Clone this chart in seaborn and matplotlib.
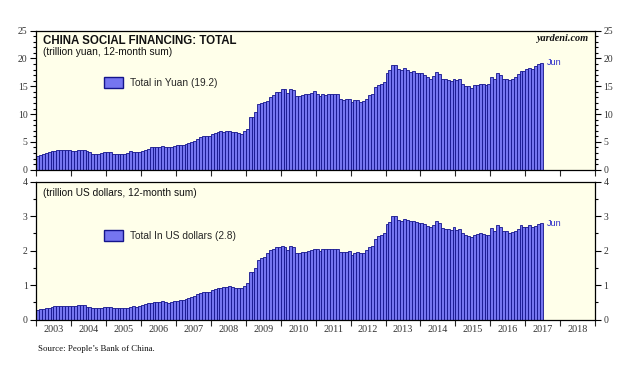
import numpy as np
import pandas as pd
import seaborn as sns
import matplotlib
matplotlib.use("Agg")
import matplotlib.pyplot as plt
from matplotlib.patches import Patch
from matplotlib.ticker import FixedLocator, MultipleLocator, NullFormatter

# China social financing, 12-month sum, monthly Jan 2003 - Jun 2017
yuan = [
    2.4, 2.6, 2.8, 3.0, 3.1, 3.3, 3.4, 3.5, 3.5, 3.5, 3.5, 3.5,        # 2003
    3.3, 3.3, 3.5, 3.5, 3.5, 3.3, 3.1, 2.9, 2.9, 2.8, 3.0, 3.2,        # 2004
    3.2, 3.1, 2.8, 2.8, 2.9, 2.9, 2.9, 3.0, 3.3, 3.2, 3.2, 3.2,        # 2005
    3.3, 3.5, 3.8, 4.0, 4.0, 4.1, 4.1, 4.2, 4.1, 4.0, 4.1, 4.3,        # 2006
    4.4, 4.4, 4.4, 4.7, 4.8, 5.0, 5.2, 5.5, 5.8, 6.1, 6.1, 6.1,        # 2007
    6.4, 6.6, 6.7, 6.9, 6.8, 6.9, 7.0, 6.8, 6.7, 6.6, 6.5, 7.0,        # 2008
    7.3, 9.5, 9.4, 10.3, 11.8, 12.0, 12.2, 12.4, 13.0, 13.4, 13.9, 13.9,  # 2009
    14.6, 14.5, 13.8, 14.6, 14.4, 13.2, 13.3, 13.4, 13.6, 13.7, 13.8, 14.1,  # 2010
    13.7, 13.2, 13.7, 13.5, 13.6, 13.7, 13.6, 13.6, 12.8, 12.6, 12.7, 12.8,  # 2011
    12.1, 12.5, 12.5, 12.1, 12.3, 12.8, 13.4, 13.6, 14.8, 15.2, 15.5, 15.8,  # 2012
    17.3, 18.0, 18.8, 18.8, 18.1, 17.9, 18.2, 18.0, 17.6, 17.7, 17.3, 17.3,  # 2013
    17.3, 17.0, 16.7, 16.4, 16.9, 17.6, 17.2, 16.4, 16.3, 16.2, 16.0, 16.4,  # 2014
    16.1, 16.3, 15.5, 15.1, 15.0, 14.7, 15.2, 15.2, 15.4, 15.4, 15.3, 15.4,  # 2015
    16.6, 16.3, 17.3, 17.0, 16.4, 16.3, 16.2, 16.4, 16.7, 17.2, 17.8, 17.7,  # 2016
    18.1, 18.2, 18.1, 18.7, 19.0, 19.2,                                      # 2017
]

usd = [
    0.27, 0.30, 0.31, 0.33, 0.35, 0.38, 0.39, 0.41, 0.41, 0.41, 0.41, 0.41,  # 2003
    0.40, 0.40, 0.42, 0.42, 0.42, 0.38, 0.36, 0.35, 0.33, 0.33, 0.34, 0.36,  # 2004
    0.37, 0.36, 0.34, 0.33, 0.33, 0.33, 0.33, 0.35, 0.38, 0.40, 0.38, 0.40,  # 2005
    0.43, 0.45, 0.48, 0.49, 0.50, 0.50, 0.51, 0.53, 0.52, 0.49, 0.52, 0.53,  # 2006
    0.55, 0.57, 0.58, 0.60, 0.63, 0.66, 0.70, 0.75, 0.78, 0.80, 0.80, 0.81,  # 2007
    0.86, 0.89, 0.91, 0.93, 0.96, 0.94, 0.98, 0.95, 0.93, 0.93, 0.93, 0.98,  # 2008
    1.05, 1.37, 1.37, 1.49, 1.73, 1.78, 1.83, 1.94, 2.02, 2.04, 2.12, 2.12,  # 2009
    2.13, 2.12, 2.02, 2.14, 2.10, 1.93, 1.93, 1.97, 1.97, 1.99, 2.02, 2.06,  # 2010
    2.04, 2.00, 2.04, 2.04, 2.04, 2.06, 2.04, 2.04, 1.96, 1.96, 1.96, 1.98,  # 2011
    1.88, 1.94, 1.96, 1.92, 1.94, 2.02, 2.10, 2.14, 2.34, 2.43, 2.46, 2.50,  # 2012
    2.77, 2.84, 3.01, 3.01, 2.89, 2.87, 2.91, 2.89, 2.86, 2.87, 2.84, 2.80,  # 2013
    2.81, 2.77, 2.72, 2.70, 2.75, 2.87, 2.79, 2.67, 2.64, 2.62, 2.61, 2.68,  # 2014
    2.61, 2.64, 2.50, 2.46, 2.43, 2.39, 2.47, 2.48, 2.50, 2.49, 2.47, 2.45,  # 2015
    2.65, 2.58, 2.74, 2.70, 2.58, 2.56, 2.50, 2.54, 2.58, 2.62, 2.74, 2.68,  # 2016
    2.68, 2.74, 2.68, 2.72, 2.78, 2.80,                                      # 2017
]

year_labels = [str(y) for y in range(2003, 2019)]

months = pd.period_range("2003-01", "2017-06", freq="M")
df = pd.DataFrame({"x": months.year + (months.month - 0.5) / 12.0,
                   "yuan": yuan, "usd": usd})

bar_fill = "#7575f0"
bar_edge = "#14148c"
panel_bg = "#ffffea"
serif = "Liberation Serif"

sns.set_style("ticks")
plt.rcParams["font.family"] = ["Liberation Sans", "DejaVu Sans"]

fig = plt.figure(figsize=(6.4, 3.76), dpi=100)
ax1 = fig.add_axes([0.05625, 0.5487, 0.8738, 0.3697])
ax2 = fig.add_axes([0.05625, 0.1497, 0.8738, 0.3670])


def draw_panel(ax, col, ymax, major, minor, leg_label, leg_y, show_years):
    sns.barplot(data=df, x="x", y=col, native_scale=True, width=1.0,
                color=bar_fill, saturation=1, edgecolor=bar_edge,
                linewidth=0.6, errorbar=None, ax=ax)
    ax.set_facecolor(panel_bg)
    ax.set_xlim(2003, 2019)
    ax.set_ylim(0, ymax)
    ax.set_xlabel("")
    ax.set_ylabel("")
    for s in ax.spines.values():
        s.set_color("black")
        s.set_linewidth(0.9)

    # y axis on both sides
    ax.yaxis.set_major_locator(MultipleLocator(major))
    ax.yaxis.set_minor_locator(MultipleLocator(minor))
    ax.tick_params(axis="y", which="both", left=True, right=True,
                   labelleft=True, labelright=True, direction="out",
                   width=0.8, labelsize=7, labelfontfamily=serif, pad=1.5,
                   colors="black", labelcolor="#333333")
    ax.tick_params(axis="y", which="major", length=4.5)
    ax.tick_params(axis="y", which="minor", length=2.5)

    # year boundaries as ticks, labels centred in each year
    ax.xaxis.set_major_locator(FixedLocator(np.arange(2003, 2020)))
    ax.xaxis.set_major_formatter(NullFormatter())
    ax.xaxis.set_minor_locator(FixedLocator(np.arange(2003.5, 2019, 1.0)))
    if show_years:
        ax.set_xticklabels(year_labels, minor=True)
    else:
        ax.xaxis.set_minor_formatter(NullFormatter())
    ax.tick_params(axis="x", which="major", bottom=True, top=False,
                   direction="out", length=4.5, width=0.8)
    ax.tick_params(axis="x", which="minor", bottom=True, top=False,
                   length=0, labelsize=7.3, labelfontfamily=serif, pad=4,
                   labelcolor="#333333")

    ax.legend(handles=[Patch(facecolor=bar_fill, edgecolor=bar_edge,
                             linewidth=1.0)],
              labels=[leg_label], loc="upper left",
              bbox_to_anchor=(0.1216, leg_y), frameon=False,
              fontsize=7.3, handlelength=1.85, handleheight=1.35,
              handletextpad=0.7, borderpad=0, borderaxespad=0)

    last = df[col].iloc[-1]
    ax.text(2017.62, last, "Jun", color="#2a2ac8", fontsize=6.5,
            va="center", ha="left")


draw_panel(ax1, "yuan", 25, 5, 1, "Total in Yuan (19.2)", 0.667, False)
draw_panel(ax2, "usd", 4, 1, 0.5, "Total In US dollars (2.8)", 0.65, True)

ax1.text(0.012, 0.904, "CHINA SOCIAL FINANCING: TOTAL", transform=ax1.transAxes,
         fontsize=8.3, fontweight="bold", va="baseline", ha="left", color="#111111")
ax1.text(0.012, 0.825, "(trillion yuan, 12-month sum)", transform=ax1.transAxes,
         fontsize=7.3, va="baseline", ha="left", color="#111111")
ax1.text(0.9875, 0.928, "yardeni.com", transform=ax1.transAxes,
         fontsize=7.4, fontstyle="italic", fontweight="bold", family=serif,
         va="baseline", ha="right", color="#111111")
ax2.text(0.012, 0.896, "(trillion US dollars, 12-month sum)", transform=ax2.transAxes,
         fontsize=7.3, va="baseline", ha="left", color="#111111")

fig.text(0.059, 0.072, "Source: People\u2019s Bank of China.", fontsize=6.4,
         family=serif, va="center", ha="left", color="#111111")

fig.savefig("out.png", dpi=100, facecolor="white")
